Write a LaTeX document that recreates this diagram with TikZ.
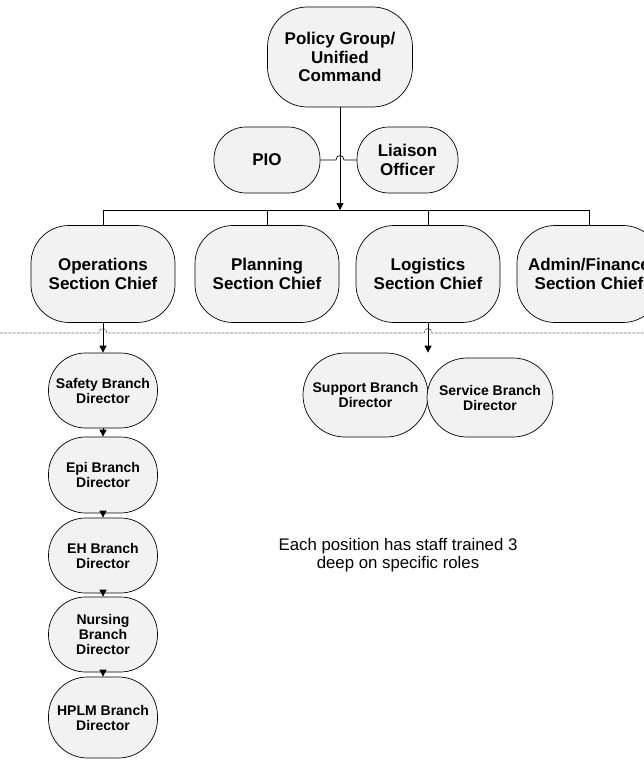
\documentclass[tikz,border=0pt]{standalone}
\usepackage{fontspec}
\setmainfont{Liberation Sans}
\usetikzlibrary{arrows.meta}
\definecolor{my fill}{HTML}{F2F2F2}
\definecolor{my dash}{HTML}{6F6F6F}

\begin{document}
\begin{tikzpicture}[x=1pt, y=1pt, line width=0.7pt,
        post/.style={draw, fill=my fill, rounded corners=#1, align=center, inner sep=0pt},
        big/.style={font=\fontsize{17}{18.5}\selectfont\bfseries},
        small/.style={font=\fontsize{14}{15}\selectfont\bfseries},
        tip/.style={-{Triangle[width=7pt, length=7pt]}},
        cutline/.style={draw=my dash, line width=0.8pt, dash pattern=on 3pt off 1.2pt}]
    \useasboundingbox (0,0) rectangle (644,-760);
    \node [post=40pt, big, minimum width=145pt, minimum height=100pt] (policy) at (340,-57) {Policy Group/\\Unified\\Command};
    \node [post=32pt, big, minimum width=106pt, minimum height=66pt] (pio) at (267,-160) {PIO};
    \node [post=32pt, big, minimum width=101pt, minimum height=66pt] (liaison) at (407.5,-160) {Liaison\\Officer};
    \node [post=38pt, big, minimum width=144pt, minimum height=97pt] (ops) at (103,-274) {Operations\\Section Chief};
    \node [post=38pt, big, minimum width=144pt, minimum height=97pt] (plan) at (267,-274) {Planning\\Section Chief};
    \node [post=38pt, big, minimum width=144pt, minimum height=97pt] (logi) at (428,-274) {Logistics\\Section Chief};
    \node [post=38pt, big, minimum width=144pt, minimum height=97pt] (admin) at (589,-274) {Admin/Finance\\Section Chief};
    \node [post=37pt, small, minimum width=109pt, minimum height=75pt] (safety) at (103,-390.5) {Safety Branch\\Director};
    \node [post=37pt, small, minimum width=109pt, minimum height=76pt] (epi) at (103,-475) {Epi Branch\\Director};
    \node [post=37pt, small, minimum width=109pt, minimum height=75pt] (eh) at (103,-555.5) {EH Branch\\Director};
    \node [post=37pt, small, minimum width=109pt, minimum height=75pt] (nursing) at (103,-634.5) {Nursing\\Branch\\Director};
    \node [post=39pt, small, minimum width=109pt, minimum height=81pt] (hplm) at (103,-717.5) {HPLM Branch\\Director};
    \node [post=42pt, small, minimum width=125pt, minimum height=84pt] (support) at (365.5,-395) {Support Branch\\Director};
    \node [post=40pt, small, minimum width=126pt, minimum height=79pt] (service) at (490,-397.5) {Service Branch\\Director};
    \node [align=center, font=\fontsize{16.8}{18}\selectfont] (remark) at (398,-555) {Each position has staff trained 3\\deep on specific roles};

    \coordinate (bus) at (0,-210);
    \coordinate (hop) at (policy |- pio);
    \coordinate (cut) at (0,-333);
    \coordinate (cutend) at (644,-333);
    \coordinate (opscut) at (ops |- cut);
    \coordinate (logicut) at (logi |- cut);

    \draw [tip] (policy) -- (policy |- bus);
    \draw (pio) -- ([xshift=-4pt]hop) .. controls +(0,6pt) and +(0,6pt) .. ([xshift=4pt]hop) -- (liaison);
    \draw (ops |- bus) -- (admin |- bus);
    \foreach \n in {ops, plan, logi, admin}
        \draw (\n |- bus) -- (\n);
    \draw [cutline] (cut) -- ([xshift=-4pt]opscut) .. controls +(0,6pt) and +(0,6pt) .. ([xshift=4pt]opscut)
        -- ([xshift=-4pt]logicut) .. controls +(0,6pt) and +(0,6pt) .. ([xshift=4pt]logicut) -- (cutend);
    \draw [tip] (ops) -- (safety);
    \draw [tip] (safety) -- (epi);
    \draw [tip] (epi) -- (eh);
    \draw [tip] (eh) -- (nursing);
    \draw [tip] (nursing) -- (hplm);
    \draw [tip] (logi) -- (logi |- support.north);
\end{tikzpicture}
\end{document}
